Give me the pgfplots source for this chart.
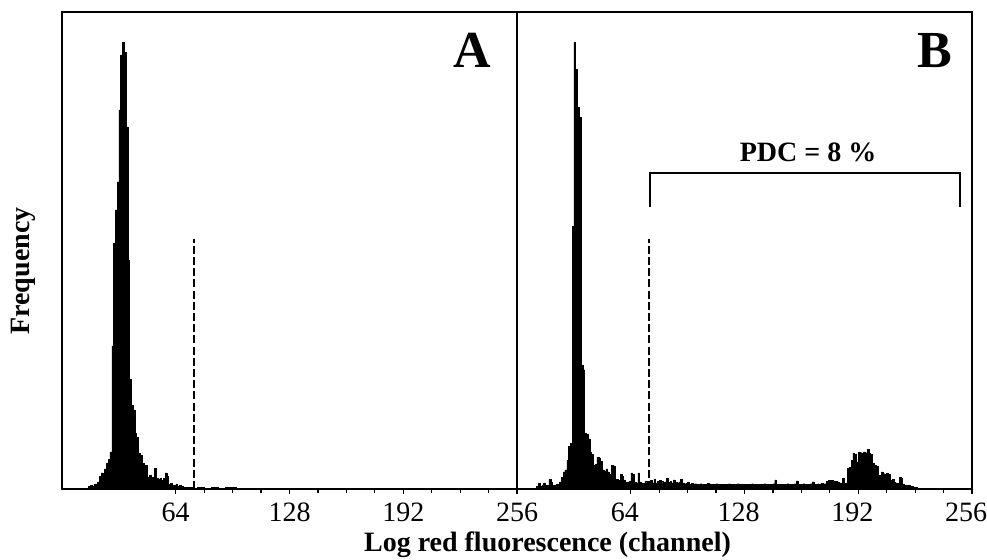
\documentclass[border=0pt]{standalone}
\usepackage{fontspec}
\setmainfont{Liberation Serif}
\usepackage{pgfplots}
\pgfplotsset{compat=1.18}

\pgfplotsset{
  histo/.style={
    scale only axis, width=227.5pt, height=238.5pt,
    xmin=0, xmax=256, ymin=0, ymax=100,
    axis line style={line width=1pt},
    xtick={64,128,192,256}, ytick=\empty,
    minor x tick num=3,
    tick align=outside, xtick pos=bottom,
    major tick length=2.5pt, minor tick length=2pt,
    tick style={black, line width=0.6pt},
    /pgf/number format/assume math mode=true,
    xticklabel style={font=\fontsize{14}{14}\selectfont, inner sep=0pt,
      anchor=base, yshift=-14pt},
    xticklabel shift=0pt,
    anchor=south west,
  },
  bars/.style={const plot, fill=black, draw=black, line width=0.2pt},
  gate/.style={black, line width=1pt, dash pattern=on 4pt off 1.6pt},
}

\begin{document}
\begin{tikzpicture}
\useasboundingbox (-31pt,-35.5pt) rectangle (462.5pt,244.5pt);

% panel A
\begin{axis}[histo, at={(0pt,0pt)}]
\addplot[bars] coordinates {
(14,0) (15,0.6) (16,0.8) (17,0.6) (18,1.0) (19,0.8) (20,1.5) (21,2.6)
(22,3.4) (23,2.8) (24,4.2) (25,5.4) (26,6.2) (27,7.8) (28,30) (29,51.6)
(30,58.5) (31,64.4) (32,79.5) (33,91) (34,93.7) (35,91.6) (36,75.9) (37,48)
(38,23) (39,17.6) (40,16.5) (41,11.7) (42,10.8) (43,7.5) (44,7) (45,5.4)
(46,4.2) (47,5) (48,2.5) (49,2.8) (50,2.2) (51,2.5) (52,4.4) (53,2.3)
(54,2) (55,2.3) (56,1.8) (57,2.3) (58,3.4) (59,2.6) (60,1) (61,1.2)
(62,0.7) (63,0.7) (64,0.9) (65,0.6) (66,0.7) (67,0.5) (68,0.3) (70,0.4)
(72,0.3) (74,0.2) (76,0.3) (80,0.2) (84,0.3) (88,0.2) (92,0.3) (98,0)
} \closedcycle;
\addplot[gate] coordinates {(74.3,0) (74.3,52.4)};
\node[font=\fontsize{26}{26}\selectfont\bfseries] at (axis cs:230.7,92) {A};
\end{axis}

% panel B
\begin{axis}[histo, at={(227.5pt,0pt)},
  xticklabel style={xshift=-3pt}]
\addplot[bars] coordinates {
(10,0) (11,0.6) (12,1.3) (13,0.6) (14,0.8) (15,1.3) (16,0.7) (17,0.8)
(18,2) (19,1.4) (20,0.8) (21,0.7) (22,1) (23,0.9) (24,1.5) (25,2.5)
(26,3.6) (27,4) (28,6) (29,8.9) (30,9.5) (31,55) (32,93.7) (33,88)
(34,80) (35,78) (36,26) (37,25) (38,11.7) (39,11.5) (40,10.5) (41,7.8)
(42,7.2) (43,5) (44,5.2) (45,6.7) (46,6.5) (47,5.8) (48,4) (49,3.8)
(50,4.2) (51,3.6) (52,3) (53,5) (54,4.8) (55,1.9) (56,2) (57,1.8)
(58,3) (59,2.6) (60,1.9) (61,1.5) (62,1.4) (63,1.6) (64,3.4) (65,3)
(66,1.5) (67,1.3) (68,3.4) (69,1.5) (70,1.3) (71,1.2) (72,1.6) (73,1.3)
(74,1.1) (75,1.8) (76,1.3) (77,2) (78,1.2) (79,1.6) (80,1.8) (81,1.7)
(82,1.2) (83,1.5) (84,2.2) (85,1.4) (86,1.6) (87,1.3) (88,1.9) (89,1.4)
(90,1.2) (91,1.5) (92,2) (93,1.3) (94,1.1) (95,1.2) (96,1.4) (97,1.0)
(98,1.2) (99,1.0) (100,1.1) (101,1.0) (102,0.9) (103,1.1) (104,1.0) (105,0.9)
(106,1.0) (107,1.2) (108,0.9) (109,1.0) (110,0.9) (111,1.0) (112,1.1) (113,0.9)
(114,1.0) (115,0.9) (116,1.0) (117,1.0) (118,0.9) (119,1.1) (120,0.9) (121,1.0)
(122,0.9) (123,1.0) (124,1.1) (125,0.9) (126,1.0) (127,0.9) (128,1.0) (129,1.0)
(130,0.9) (131,1.0) (132,1.1) (133,0.9) (134,1.0) (135,0.9) (136,1.0) (137,0.9)
(138,1.0) (139,1.1) (140,0.9) (141,1.0) (142,0.9) (143,1.0) (144,1.1) (145,1.9)
(146,1.0) (147,0.9) (148,1.0) (149,1.0) (150,0.9) (151,1.0) (152,1.1) (153,0.9)
(154,1.0) (155,1.0) (156,1.1) (157,1.7) (158,1.0) (159,0.9) (160,1.0) (161,1.1)
(162,1.0) (163,0.9) (164,1.0) (165,1.1) (166,1.5) (167,1.0) (168,1.0) (169,1.1)
(170,1.0) (171,1.2) (172,1.0) (173,1.1) (174,1.6) (175,1.8) (176,1.8) (177,1.8)
(178,1.7) (179,1.6) (180,1.5) (181,1.2) (182,1.3) (183,2.3) (184,1.2) (185,1.3)
(186,4.3) (187,4.6) (188,6) (189,7.5) (190,7.3) (191,5.7) (192,7.8) (193,7.6)
(194,5.4) (195,7.8) (196,7.6) (197,8.3) (198,7.5) (199,7.2) (200,5.4) (201,5.0)
(202,4.7) (203,2.6) (204,2.8) (205,3.6) (206,3.2) (207,2.2) (208,3.3) (209,3.0)
(210,1.9) (211,2.0) (212,1.5) (213,1.3) (214,1.2) (215,2.5) (216,2.2) (217,1.0)
(218,0.8) (219,0.8) (220,0.7) (221,0.6) (222,0.5) (223,0.4) (224,0.3) (225,0.2)
(226,0)
} \closedcycle;
\addplot[gate] coordinates {(74.3,0) (74.3,52.4)};
\draw[line width=1pt] (axis cs:74.8,59.1) -- (axis cs:74.8,66.2)
  -- (axis cs:249.3,66.2) -- (axis cs:249.3,59.1);
\node[font=\fontsize{14}{14}\selectfont\bfseries] at (axis cs:163.8,70.6) {PDC = 8 \%};
\node[font=\fontsize{26}{26}\selectfont\bfseries] at (axis cs:235,92) {B};
\end{axis}

\node[font=\fontsize{14}{14}\selectfont\bfseries] at (242.75pt,-28pt)
  {Log red fluorescence (channel)};
\node[font=\fontsize{14}{14}\selectfont\bfseries, rotate=90] at (-19.5pt,109pt)
  {Frequency};
\end{tikzpicture}
\end{document}
